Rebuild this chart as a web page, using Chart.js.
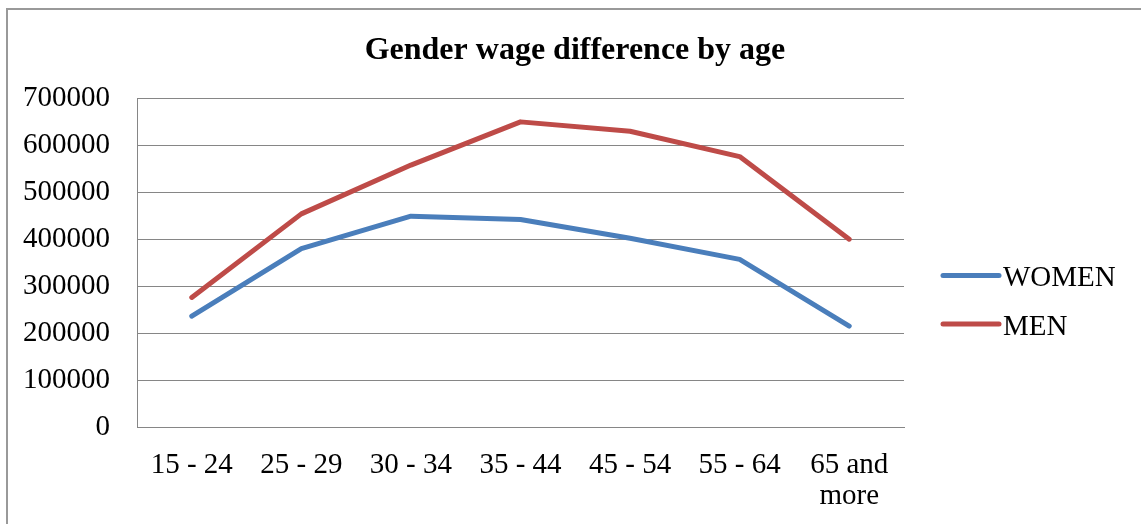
<!DOCTYPE html>
<html lang="en">
<head>
<meta charset="UTF-8" />
<title>Gender wage difference by age</title>
<script src="https://cdn.jsdelivr.net/npm/chart.js"></script>
<style>
  body {
    margin: 0;
    background: #fff;
  }
  #wrap {
    position: relative;
    width: 1141px;
    height: 524px;
    overflow: hidden;
  }
  #frame {
    position: absolute;
    left: 6px;
    top: 8px;
    width: 1200px;
    height: 600px;
    border-left: 2px solid #999;
    border-top: 2px solid #999;
    pointer-events: none;
  }
</style>
</head>
<body>
<div id="wrap">
  <canvas id="wageChart" width="1141" height="524"></canvas>
  <div id="frame"></div>
</div>

<script>
  const ageGroups = ['15 - 24', '25 - 29', '30 - 34', '35 - 44', '45 - 54', '55 - 64', ['65 and', 'more']];
  const women = [236000, 380000, 449000, 442000, 402000, 357000, 215000];
  const men = [276000, 454000, 558000, 650000, 630000, 576000, 400000];
  const yTicks = [0, 100000, 200000, 300000, 400000, 500000, 600000, 700000];

  const serif = 'Liberation Serif';
  Chart.defaults.color = '#000';

  // legend drawn to the right of the plot: a short line and the series name
  const sideLegend = {
    id: 'sideLegend',
    afterDraw(chart) {
      const ctx = chart.ctx;
      const area = chart.chartArea;
      ctx.save();
      ctx.font = '29px "' + serif + '"';
      ctx.textBaseline = 'middle';
      ctx.textAlign = 'left';
      chart.data.datasets.forEach((ds, i) => {
        const y = area.top + 177 + i * 48.5;
        const x = area.right + 39;
        ctx.strokeStyle = ds.borderColor;
        ctx.lineWidth = 5;
        ctx.lineCap = 'round';
        ctx.beginPath();
        ctx.moveTo(x, y);
        ctx.lineTo(x + 56, y);
        ctx.stroke();
        ctx.fillStyle = '#000';
        ctx.fillText(ds.label, x + 60, y + 3);
      });
      ctx.restore();
    }
  };

  new Chart(document.getElementById('wageChart'), {
    type: 'line',
    data: {
      labels: ageGroups,
      datasets: [
        {
          label: 'WOMEN',
          data: women,
          borderColor: '#4a7ebb',
          borderWidth: 5,
          pointRadius: 0,
          tension: 0,
          borderJoinStyle: 'round',
          borderCapStyle: 'round'
        },
        {
          label: 'MEN',
          data: men,
          borderColor: '#be4b48',
          borderWidth: 5,
          pointRadius: 0,
          tension: 0,
          borderJoinStyle: 'round',
          borderCapStyle: 'round'
        }
      ]
    },
    options: {
      responsive: false,
      animation: false,
      layout: { padding: { left: 9, right: 0, top: 0, bottom: 0 } },
      plugins: {
        legend: { display: false },
        tooltip: { enabled: false },
        title: {
          display: true,
          text: 'Gender wage difference by age',
          font: { family: serif, size: 32, weight: 'bold' },
          color: '#000',
          padding: { top: 32, bottom: 28 }
        }
      },
      scales: {
        x: {
          offset: true,
          grid: { display: false, drawTicks: false },
          border: { display: true, color: '#868686', width: 1 },
          ticks: {
            font: { family: serif, size: 29, lineHeight: 1.1 },
            color: '#000',
            padding: 22,
            maxRotation: 0,
            autoSkip: false
          },
          afterFit(scale) { scale.height = 97; }
        },
        y: {
          min: 0,
          max: 700000,
          afterBuildTicks(scale) {
            scale.ticks = yTicks.map(v => ({ value: v }));
          },
          grid: { color: '#868686', lineWidth: 1, drawTicks: false },
          border: { display: true, color: '#868686', width: 1 },
          ticks: {
            font: { family: serif, size: 29 },
            color: '#000',
            padding: 27,
            callback: v => String(v)
          },
          afterFit(scale) { scale.width = 128; }
        },
        // empty axis that keeps room for the legend on the right
        side: {
          type: 'linear',
          position: 'right',
          display: true,
          grid: { display: false, drawTicks: false },
          border: { display: false },
          ticks: { display: false },
          afterFit(scale) { scale.width = 237; }
        }
      }
    },
    plugins: [sideLegend]
  });
</script>
</body>
</html>
